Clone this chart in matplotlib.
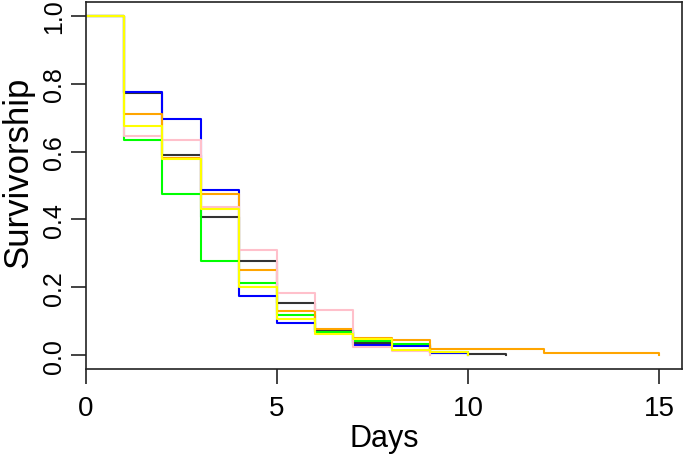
import matplotlib
matplotlib.use("Agg")
import matplotlib.pyplot as plt

plt.rcParams['font.family'] = ['Liberation Sans', 'DejaVu Sans']

# survivorship per day, each series ends at 0 on its last day
black = [1.0, 0.772, 0.591, 0.408, 0.277, 0.153, 0.074, 0.036, 0.030, 0.008, 0.005, 0.0]
blue = [1.0, 0.775, 0.696, 0.486, 0.176, 0.096, 0.070, 0.031, 0.028, 0.008, 0.0]
green = [1.0, 0.635, 0.474, 0.279, 0.214, 0.118, 0.069, 0.041, 0.035, 0.010, 0.0]
orange = [1.0, 0.710, 0.581, 0.476, 0.251, 0.130, 0.077, 0.052, 0.044, 0.019, 0.019, 0.019,
          0.008, 0.008, 0.008, 0.0]
pink = [1.0, 0.645, 0.635, 0.437, 0.310, 0.184, 0.135, 0.024, 0.012, 0.0]
yellow = [1.0, 0.675, 0.579, 0.430, 0.201, 0.106, 0.064, 0.047, 0.016, 0.011, 0.0]

series = [(black, '#333333'), (blue, '#0000ff'), (green, '#00ff00'),
          (orange, '#ffa500'), (pink, '#ffc0cb'), (yellow, '#ffff00')]

fig = plt.figure(figsize=(6.85, 4.56), dpi=100)
ax = fig.add_axes([86/685, 1-370/456, (682-86)/685, (370-3)/456])

for vals, col in series:
    ax.step(range(len(vals)), vals, where='post', color=col, lw=1.5)

ax.set_xlim(0, 15.6)
ax.set_ylim(-0.04, 1.04)
ax.set_xticks([0, 5, 10, 15])
ax.set_yticks([0, 0.2, 0.4, 0.6, 0.8, 1.0])
ax.set_yticklabels(['0.0', '0.2', '0.4', '0.6', '0.8', '1.0'], rotation=90, va='center')
ax.tick_params(length=11, width=1.2, color='#222222')
ax.tick_params(axis='x', pad=7.5, labelsize=20)
ax.tick_params(axis='y', pad=3.5, labelsize=18)
for s in ax.spines.values():
    s.set_linewidth(1.2)
    s.set_color('#222222')

ax.set_xlabel('Days', fontsize=22)
ax.set_ylabel('Survivorship', fontsize=25)
ax.xaxis.set_label_coords(0.5, -0.148)
ax.yaxis.set_label_coords(-0.086, 0.54)

fig.savefig('out.png', dpi=100)
